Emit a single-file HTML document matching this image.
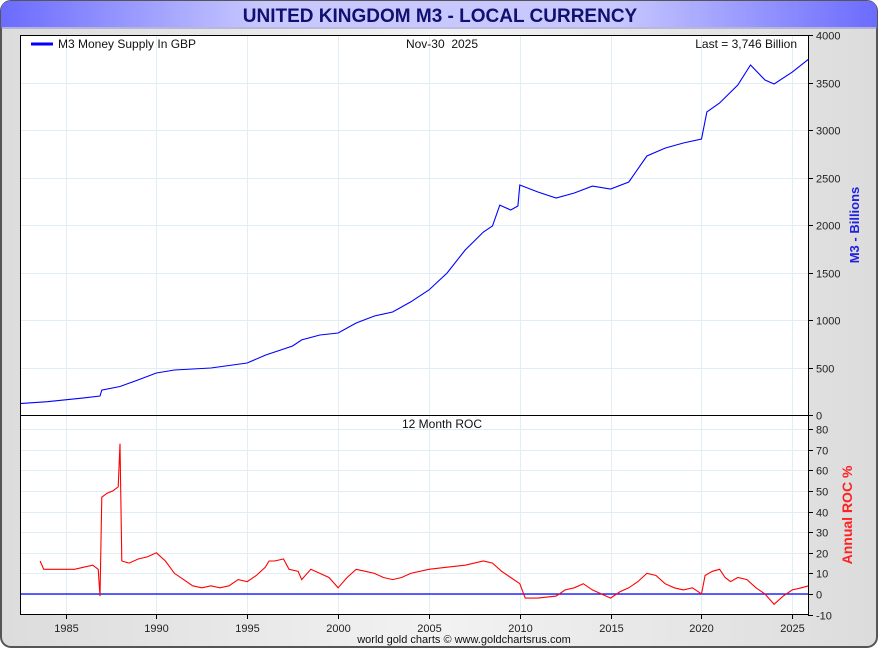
<!DOCTYPE html>
<html><head><meta charset="utf-8"><style>
html,body{margin:0;padding:0;width:880px;height:650px;overflow:hidden;background:#fff;font-family:"Liberation Sans",sans-serif;}
</style></head><body>
<svg id="chart" width="880" height="650" xmlns="http://www.w3.org/2000/svg" font-family="Liberation Sans, sans-serif">
<defs>
<linearGradient id="bg" x1="0" x2="1" y1="0" y2="0"><stop offset="0" stop-color="#dcdcdc"/><stop offset="0.5" stop-color="#f2f2f2"/><stop offset="1" stop-color="#dcdcdc"/></linearGradient>
<linearGradient id="tb" x1="0" x2="1" y1="0" y2="0"><stop offset="0" stop-color="#6b6bff"/><stop offset="0.3" stop-color="#c8c8ff"/><stop offset="0.7" stop-color="#c8c8ff"/><stop offset="1" stop-color="#6b6bff"/></linearGradient>
</defs>
<rect x="1" y="1" width="876" height="646" rx="10" fill="url(#bg)" stroke="#555" stroke-width="2"/>
<path d="M1,27 L1,11 Q1,1 11,1 L867,1 Q877,1 877,11 L877,27 Z" fill="url(#tb)"/>
<line x1="1" y1="28" x2="877" y2="28" stroke="#8888cc"/>
<text x="440" y="22" text-anchor="middle" font-size="19" font-weight="bold" fill="#101070">UNITED KINGDOM M3 - LOCAL CURRENCY</text>
<rect x="20.5" y="35.5" width="788" height="579" fill="#fff"/>
<g id="grid"></g>
<g id="series"></g>
<rect x="20.5" y="35.5" width="788" height="579" fill="none" stroke="#000"/>
<line x1="20.5" y1="415.5" x2="808.5" y2="415.5" stroke="#000"/>
<g id="axes" font-size="11" fill="#222"></g>
<line x1="31" y1="44" x2="53" y2="44" stroke="#0000ff" stroke-width="3"/>
<text x="58" y="48" font-size="12" fill="#111">M3 Money Supply In GBP</text>
<text x="442" y="48" font-size="12" text-anchor="middle" fill="#111">Nov-30&#160;&#160;2025</text>
<text x="797" y="48" font-size="12" text-anchor="end" fill="#111">Last = 3,746 Billion</text>
<text x="442" y="428" font-size="12" text-anchor="middle" fill="#111">12 Month ROC</text>
<text transform="translate(859,225) rotate(-90)" text-anchor="middle" font-size="13" font-weight="bold" fill="#2020e0">M3 - Billions</text>
<text transform="translate(852,515) rotate(-90)" text-anchor="middle" font-size="14" font-weight="bold" fill="#ff2020">Annual ROC %</text>
<text x="464" y="643" font-size="11" text-anchor="middle" fill="#111">world gold charts © www.goldchartsrus.com</text>
</svg>
<script>
const m3Years=[1982.5,1984,1985,1986,1986.9,1987.0,1988,1989,1990,1991,1993,1995,1996,1997.5,1998,1999,2000,2001,2002,2003,2004,2005,2006,2007,2008,2008.5,2008.9,2009.5,2009.9,2010,2011,2012,2013,2014,2015,2016,2017,2018,2019,2020,2020.3,2021,2022,2022.7,2023.5,2024,2025,2025.9];
const m3Values=[120,140,160,180,200,262,300,370,442,474,495,547,630,726,790,842,863,968,1042,1084,1190,1316,1495,1737,1926,1990,2210,2158,2200,2421,2347,2284,2337,2410,2379,2453,2726,2810,2863,2905,3190,3284,3474,3684,3526,3484,3610,3746];
const rocYears=[1983.6,1983.8,1984,1984.5,1985,1985.5,1986,1986.5,1986.8,1986.9,1987.0,1987.3,1987.6,1987.9,1988.0,1988.1,1988.5,1989,1989.5,1990,1990.5,1991,1991.5,1992,1992.5,1993,1993.5,1994,1994.5,1995,1995.5,1996,1996.2,1996.5,1997,1997.3,1997.8,1998,1998.5,1999,1999.5,2000,2000.5,2001,2001.5,2002,2002.5,2003,2003.5,2004,2005,2006,2007,2008,2008.5,2009,2009.5,2010,2010.3,2011,2012,2012.5,2013,2013.5,2014,2014.5,2015,2015.5,2016,2016.5,2017,2017.5,2018,2018.5,2019,2019.5,2020,2020.2,2020.6,2021,2021.3,2021.6,2022,2022.5,2023,2023.5,2024,2024.5,2025,2025.5,2025.9];
const rocValues=[16,12,12,12,12,12,13,14,12,-1,47,49,50,52,73,16,15,17,18,20,16,10,7,4,3,4,3,4,7,6,9,13,16,16,17,12,11,7,12,10,8,3,8,12,11,10,8,7,8,10,12,13,14,16,15,11,8,5,-2,-2,-1,2,3,5,2,0,-2,1,3,6,10,9,5,3,2,3,0,9,11,12,8,6,8,7,3,0,-5,-1,2,3,4];
const m3Ticks=[0,500,1000,1500,2000,2500,3000,3500,4000];
const rocTicks=[-10,0,10,20,30,40,50,60,70,80];
const yearTicks=[1985,1990,1995,2000,2005,2010,2015,2020,2025];
const NS="http://www.w3.org/2000/svg";
function xS(yr){return 65.5+(yr-1985)*18.17;}
function yM(v){return 415-v*0.095;}
function yR(v){return 594-v*2.06;}
function mk(tag,attrs,parent){const e=document.createElementNS(NS,tag);for(const k in attrs)e.setAttribute(k,attrs[k]);parent.appendChild(e);return e;}
const grid=document.getElementById('grid'),axes=document.getElementById('axes'),series=document.getElementById('series');
yearTicks.forEach(y=>{const x=Math.round(xS(y))+0.5;
 const g=mk('line',{x1:x,x2:x,y1:36,y2:614,stroke:'#e2eef6'},grid);
 
 
 const t=mk('line',{x1:x,x2:x,y1:614,y2:619,stroke:'#000'},axes);
 
 
 const l=mk('text',{x:x,y:632,'text-anchor':'middle'},axes);l.textContent=y;
 
 
});
m3Ticks.forEach(v=>{const y=Math.round(yM(v))+0.5;
 if(v>0&&v<4000){const g=mk('line',{x1:21,x2:808,y1:y,y2:y,stroke:'#e2eef6'},grid);
 
 }
 const t=mk('line',{x1:808,x2:813,y1:y,y2:y,stroke:'#000'},axes);
 
 
 const l=mk('text',{x:816,y:y+4},axes);l.textContent=v;
 
 
});
rocTicks.forEach(v=>{const y=Math.round(yR(v))+0.5;
 if(v!==-10){const g=mk('line',{x1:21,x2:808,y1:y,y2:y,stroke:'#e2eef6'},grid);
 
 }
 const t=mk('line',{x1:808,x2:813,y1:y,y2:y,stroke:'#000'},axes);
 
 
 const l=mk('text',{x:816,y:y+4},axes);l.textContent=v;
 
 
});
const zl=mk('line',{x1:21,x2:808,y1:yR(0),y2:yR(0),stroke:'#0000ff','stroke-width':1.2},series);


const p1=mk('polyline',{points:m3Years.map((y,i)=>xS(y).toFixed(1)+','+yM(m3Values[i]).toFixed(1)).join(' '),fill:'none',stroke:'#0000ff','stroke-width':1.1},series);


const p2=mk('polyline',{points:rocYears.map((y,i)=>xS(y).toFixed(1)+','+yR(rocValues[i]).toFixed(1)).join(' '),fill:'none',stroke:'#ff0000','stroke-width':1.1},series);


</script>
</body></html>
